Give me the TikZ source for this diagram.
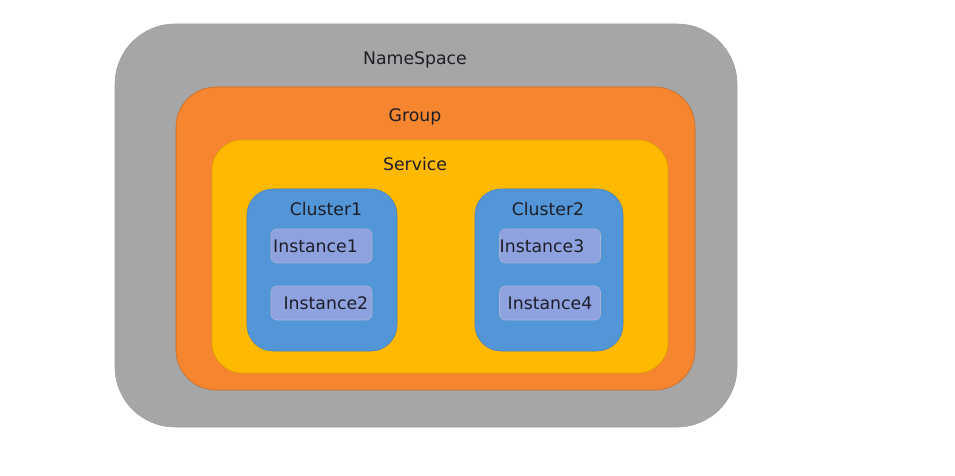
\documentclass[tikz,border=0pt]{standalone}
\usepackage{fontspec}
\setmainfont{DejaVu Sans}
\definecolor{nsgray}{HTML}{A6A6A6}
\definecolor{grouporange}{HTML}{F6852F}
\definecolor{serviceyellow}{HTML}{FFB901}
\definecolor{clusterblue}{HTML}{5396D8}
\definecolor{instancelav}{HTML}{8EA2E0}
\definecolor{labeltext}{HTML}{1E1E28}
\begin{document}
\begin{tikzpicture}
[box/.style={draw, thin, minimum width=#1},
 title/.style={text=labeltext, font=\fontsize{12.3}{14}\selectfont, inner sep=1pt},
 inst/.style={box=2.525cm, minimum height=.85cm, rounded corners=.15cm,
   inner xsep=0pt, fill=instancelav, draw=instancelav!80!black!60,
   text=labeltext, font=\fontsize{12.3}{14}\selectfont},
 clus/.style={box=#1, minimum height=4.05cm, rounded corners=.65cm,
   fill=clusterblue, draw=clusterblue!85!black}]
\useasboundingbox (0,0) rectangle (23.875,-11.9);
\node (NameSpace) at (10.65,-5.6375) [box=15.55cm, minimum height=10.075cm,
  rounded corners=1.5cm, fill=nsgray, draw=nsgray!95!black] {};
\node (Group) at (10.8875,-5.9625) [box=12.975cm, minimum height=7.575cm,
  rounded corners=1cm, fill=grouporange, draw=grouporange!80!black] {};
\node (Service) at (11,-6.4125) [box=11.4cm, minimum height=5.825cm,
  rounded corners=.75cm, fill=serviceyellow, draw=serviceyellow!85!black] {};
\node (Cluster1) at (8.05,-6.75) [clus=3.75cm] {};
\node (Cluster2) at (13.725,-6.75) [clus=3.7cm] {};

\node (Instance1) at (8.0375,-6.15) [inst] {Instance1\kern.3cm};
\node (Instance2) at (8.0375,-7.575) [inst] {\kern.22cm Instance2};
\node (Instance3) at (13.75,-6.15) [inst] {Instance3\kern.4cm};
\node (Instance4) at (13.75,-7.575) [inst] {Instance4};

\node (NameSpaceTitle) at (10.375,-1.5) [title] {NameSpace};
\node (GroupTitle) at (10.375,-2.925) [title] {Group};
\node (ServiceTitle) at (10.375,-4.1) [title] {Service};
\node (Cluster1Title) at (8.15,-5.225) [title] {Cluster1};
\node (Cluster2Title) at (13.7,-5.225) [title] {Cluster2};
\end{tikzpicture}
\end{document}
